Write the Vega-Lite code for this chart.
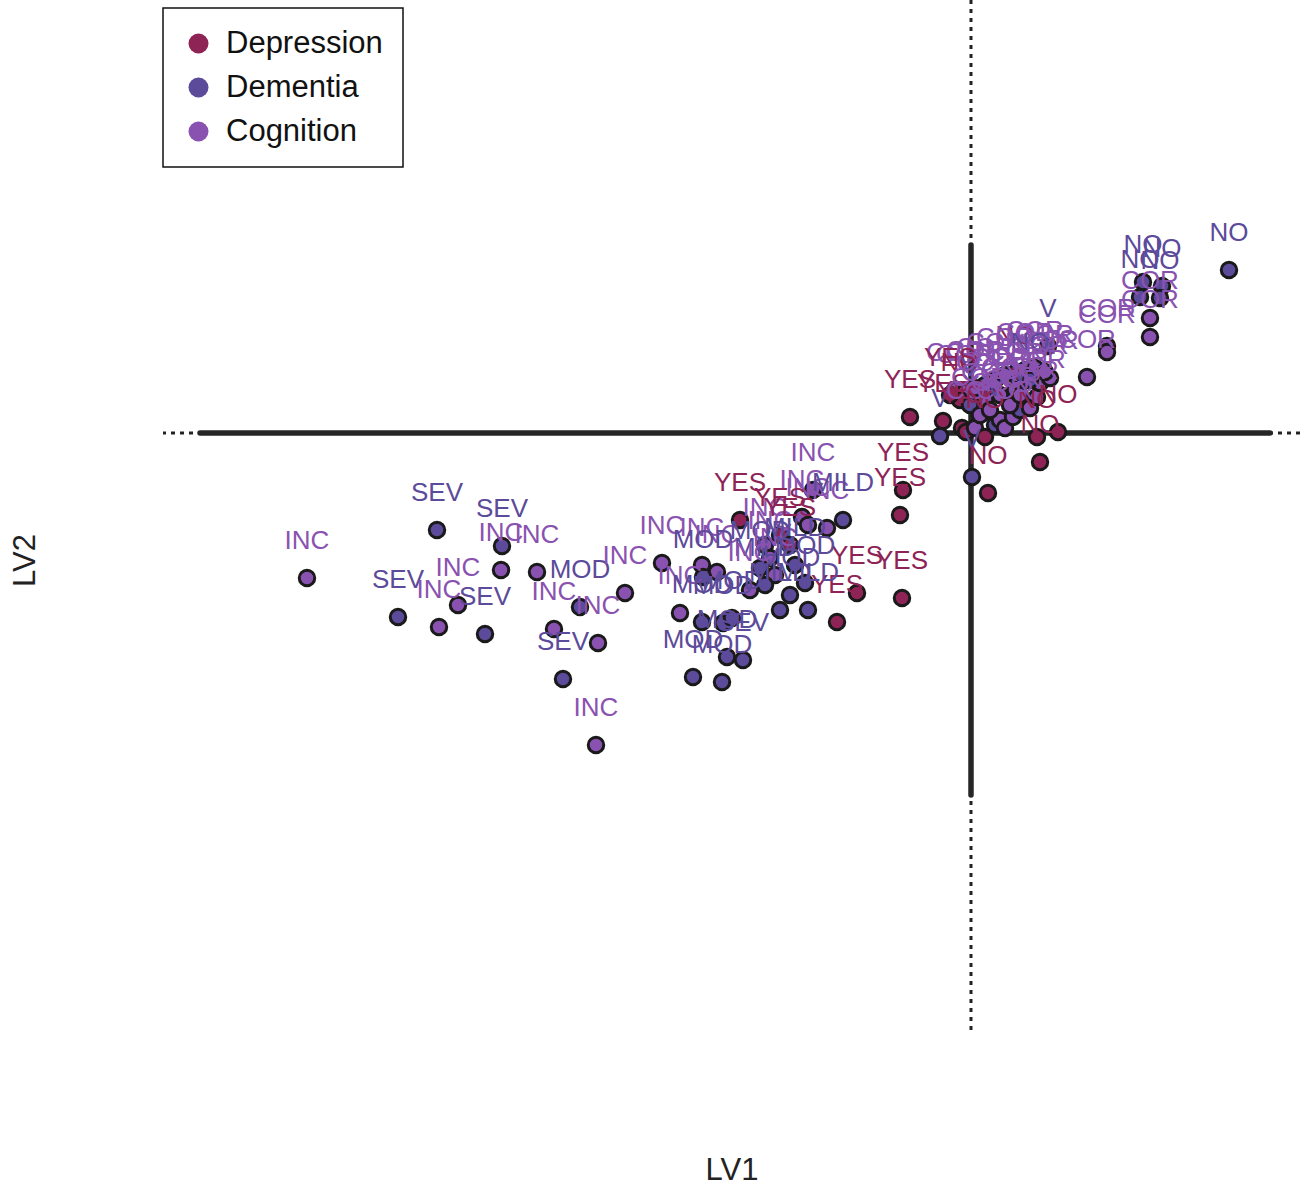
{
  "$schema": "https://vega.github.io/schema/vega-lite/v6.json",
  "width": 1137,
  "height": 1035,
  "autosize": {"type": "none"},
  "padding": {"left": 163, "top": 0, "right": 3, "bottom": 156},
  "background": "white",
  "config": {
    "view": {"stroke": null},
    "font": "Liberation Sans",
    "legend": {
      "orient": "none",
      "legendX": 0,
      "legendY": 8,
      "strokeColor": "#111111",
      "strokeWidth": 1.5,
      "fillColor": "white",
      "padding": 20,
      "labelFontSize": 31,
      "labelFont": "Liberation Sans",
      "labelColor": "#111111",
      "labelLimit": 400,
      "labelOffset": 12,
      "symbolSize": 400,
      "symbolType": "circle",
      "symbolStrokeWidth": 0,
      "symbolOpacity": 1,
      "rowPadding": 12,
      "title": null
    }
  },
  "datasets": {
    "pts": [
      {"lv1": -6.64, "lv2": -1.45, "group": "Cognition", "label": "INC"},
      {"lv1": -5.34, "lv2": -0.97, "group": "Dementia", "label": "SEV"},
      {"lv1": -4.69, "lv2": -1.13, "group": "Dementia", "label": "SEV"},
      {"lv1": -4.70, "lv2": -1.37, "group": "Cognition", "label": "INC"},
      {"lv1": -4.34, "lv2": -1.39, "group": "Cognition", "label": "INC"},
      {"lv1": -5.13, "lv2": -1.72, "group": "Cognition", "label": "INC"},
      {"lv1": -5.73, "lv2": -1.84, "group": "Dementia", "label": "SEV"},
      {"lv1": -5.32, "lv2": -1.94, "group": "Cognition", "label": "INC"},
      {"lv1": -4.86, "lv2": -2.01, "group": "Dementia", "label": "SEV"},
      {"lv1": -3.91, "lv2": -1.74, "group": "Dementia", "label": "MOD"},
      {"lv1": -4.17, "lv2": -1.96, "group": "Cognition", "label": "INC"},
      {"lv1": -3.73, "lv2": -2.10, "group": "Cognition", "label": "INC"},
      {"lv1": -4.08, "lv2": -2.46, "group": "Dementia", "label": "SEV"},
      {"lv1": -3.75, "lv2": -3.12, "group": "Cognition", "label": "INC"},
      {"lv1": -3.46, "lv2": -1.60, "group": "Cognition", "label": "INC"},
      {"lv1": -3.09, "lv2": -1.30, "group": "Cognition", "label": "INC"},
      {"lv1": -2.69, "lv2": -1.32, "group": "Cognition", "label": "INC"},
      {"lv1": -2.54, "lv2": -1.39, "group": "Cognition", "label": "INC"},
      {"lv1": -2.68, "lv2": -1.44, "group": "Dementia", "label": "MOD"},
      {"lv1": -2.91, "lv2": -1.80, "group": "Cognition", "label": "INC"},
      {"lv1": -2.69, "lv2": -1.89, "group": "Dementia", "label": "MOD"},
      {"lv1": -2.48, "lv2": -1.90, "group": "Dementia", "label": "MOD"},
      {"lv1": -2.39, "lv2": -1.85, "group": "Dementia", "label": "MOD"},
      {"lv1": -2.44, "lv2": -2.24, "group": "Dementia", "label": "MOD"},
      {"lv1": -2.28, "lv2": -2.27, "group": "Dementia", "label": "SEV"},
      {"lv1": -2.78, "lv2": -2.44, "group": "Dementia", "label": "MOD"},
      {"lv1": -2.49, "lv2": -2.49, "group": "Dementia", "label": "MOD"},
      {"lv1": -2.31, "lv2": -0.87, "group": "Depression", "label": "YES"},
      {"lv1": -1.69, "lv2": -0.84, "group": "Cognition", "label": "INC"},
      {"lv1": -1.63, "lv2": -0.92, "group": "Cognition", "label": "INC"},
      {"lv1": -1.44, "lv2": -0.95, "group": "Cognition", "label": "INC"},
      {"lv1": -1.28, "lv2": -0.87, "group": "Dementia", "label": "MILD"},
      {"lv1": -1.58, "lv2": -0.57, "group": "Cognition", "label": "INC"},
      {"lv1": -0.68, "lv2": -0.57, "group": "Depression", "label": "YES"},
      {"lv1": -0.71, "lv2": -0.82, "group": "Depression", "label": "YES"},
      {"lv1": -1.14, "lv2": -1.60, "group": "Depression", "label": "YES"},
      {"lv1": -0.69, "lv2": -1.65, "group": "Depression", "label": "YES"},
      {"lv1": -1.34, "lv2": -1.89, "group": "Depression", "label": "YES"},
      {"lv1": -1.81, "lv2": -1.62, "group": "Dementia", "label": "MOD"},
      {"lv1": -1.91, "lv2": -1.77, "group": "Dementia", "label": "MILD"},
      {"lv1": -1.63, "lv2": -1.77, "group": "Dementia", "label": "MILD"},
      {"lv1": -1.66, "lv2": -1.50, "group": "Dementia", "label": "MOD"},
      {"lv1": -2.06, "lv2": -1.12, "group": "Cognition", "label": "INC"},
      {"lv1": -2.01, "lv2": -1.25, "group": "Cognition", "label": "INC"},
      {"lv1": -2.11, "lv2": -1.35, "group": "Dementia", "label": "MOD"},
      {"lv1": -1.96, "lv2": -1.42, "group": "Cognition", "label": "INC"},
      {"lv1": -2.06, "lv2": -1.52, "group": "Dementia", "label": "MILD"},
      {"lv1": -1.91, "lv2": -1.02, "group": "Depression", "label": "YES"},
      {"lv1": -1.81, "lv2": -1.12, "group": "Depression", "label": "YES"},
      {"lv1": -1.76, "lv2": -1.32, "group": "Dementia", "label": "MILD"},
      {"lv1": -2.21, "lv2": -1.57, "group": "Cognition", "label": "INC"},
      {"lv1": -0.61, "lv2": 0.16, "group": "Depression", "label": "YES"},
      {"lv1": -0.28, "lv2": 0.12, "group": "Depression", "label": "YES"},
      {"lv1": -0.31, "lv2": -0.03, "group": "Dementia", "label": "V"},
      {"lv1": -0.09, "lv2": 0.05, "group": "Depression", "label": "YES"},
      {"lv1": -0.05, "lv2": 0.01, "group": "Depression", "label": "NO"},
      {"lv1": 0.04, "lv2": 0.05, "group": "Cognition", "label": "COR"},
      {"lv1": 0.14, "lv2": -0.04, "group": "Depression", "label": "NO"},
      {"lv1": 0.24, "lv2": 0.08, "group": "Dementia", "label": "V"},
      {"lv1": 0.29, "lv2": 0.13, "group": "Cognition", "label": "COR"},
      {"lv1": 0.01, "lv2": -0.44, "group": "Dementia", "label": "V"},
      {"lv1": 0.17, "lv2": -0.60, "group": "Depression", "label": "NO"},
      {"lv1": 0.66, "lv2": -0.04, "group": "Depression", "label": "NO"},
      {"lv1": 0.69, "lv2": -0.29, "group": "Depression", "label": "NO"},
      {"lv1": 0.87, "lv2": 0.01, "group": "Depression", "label": "NO"},
      {"lv1": 0.34, "lv2": 0.05, "group": "Cognition", "label": "COR"},
      {"lv1": 0.42, "lv2": 0.16, "group": "Cognition", "label": "COR"},
      {"lv1": 0.49, "lv2": 0.23, "group": "Dementia", "label": "V"},
      {"lv1": 0.59, "lv2": 0.25, "group": "Cognition", "label": "COR"},
      {"lv1": 0.66, "lv2": 0.36, "group": "Cognition", "label": "COR"},
      {"lv1": 0.69, "lv2": 0.50, "group": "Cognition", "label": "COR"},
      {"lv1": 0.79, "lv2": 0.55, "group": "Cognition", "label": "COR"},
      {"lv1": 1.16, "lv2": 0.56, "group": "Cognition", "label": "COR"},
      {"lv1": 1.36, "lv2": 0.87, "group": "Cognition", "label": "COR"},
      {"lv1": 1.36, "lv2": 0.81, "group": "Cognition", "label": "COR"},
      {"lv1": 0.77, "lv2": 0.87, "group": "Dementia", "label": "V"},
      {"lv1": 0.44, "lv2": 0.60, "group": "Depression", "label": "NO"},
      {"lv1": -0.16, "lv2": 0.43, "group": "Cognition", "label": "COR"},
      {"lv1": -0.06, "lv2": 0.41, "group": "Cognition", "label": "COR"},
      {"lv1": 0.04, "lv2": 0.45, "group": "Cognition", "label": "COR"},
      {"lv1": 0.14, "lv2": 0.48, "group": "Cognition", "label": "COR"},
      {"lv1": 0.24, "lv2": 0.53, "group": "Cognition", "label": "COR"},
      {"lv1": 0.34, "lv2": 0.58, "group": "Cognition", "label": "COR"},
      {"lv1": 0.54, "lv2": 0.63, "group": "Cognition", "label": "COR"},
      {"lv1": 0.64, "lv2": 0.65, "group": "Cognition", "label": "COR"},
      {"lv1": 0.74, "lv2": 0.61, "group": "Cognition", "label": "COR"},
      {"lv1": 0.59, "lv2": 0.53, "group": "Dementia", "label": "NO"},
      {"lv1": -0.11, "lv2": 0.33, "group": "Depression", "label": "NO"},
      {"lv1": -0.01, "lv2": 0.28, "group": "Dementia", "label": "V"},
      {"lv1": 0.14, "lv2": 0.33, "group": "Cognition", "label": "COR"},
      {"lv1": 0.29, "lv2": 0.38, "group": "Cognition", "label": "COR"},
      {"lv1": 0.44, "lv2": 0.43, "group": "Cognition", "label": "COR"},
      {"lv1": -0.21, "lv2": 0.38, "group": "Depression", "label": "YES"},
      {"lv1": 0.09, "lv2": 0.18, "group": "Cognition", "label": "COR"},
      {"lv1": 0.19, "lv2": 0.23, "group": "Cognition", "label": "COR"},
      {"lv1": 0.39, "lv2": 0.28, "group": "Cognition", "label": "COR"},
      {"lv1": 0.49, "lv2": 0.38, "group": "Cognition", "label": "COR"},
      {"lv1": 1.72, "lv2": 1.51, "group": "Dementia", "label": "NO"},
      {"lv1": 1.91, "lv2": 1.47, "group": "Dementia", "label": "NO"},
      {"lv1": 1.69, "lv2": 1.36, "group": "Dementia", "label": "NO"},
      {"lv1": 1.89, "lv2": 1.35, "group": "Dementia", "label": "NO"},
      {"lv1": 1.79, "lv2": 1.15, "group": "Cognition", "label": "COR"},
      {"lv1": 1.79, "lv2": 0.96, "group": "Cognition", "label": "COR"},
      {"lv1": 2.58, "lv2": 1.63, "group": "Dementia", "label": "NO"}
    ]
  },
  "encoding": {
    "x": {"field": "lv1", "type": "quantitative",
      "scale": {"domain": [-8.08, 3.29], "nice": false, "zero": false},
      "axis": {"domain": false, "ticks": false, "labels": false, "grid": false,
        "title": "LV1", "titleFontSize": 31, "titleFontWeight": "normal", "titleColor": "#222222",
        "titleFont": "Liberation Sans", "titleBaseline": "middle", "titleY": 135}},
    "y": {"field": "lv2", "type": "quantitative",
      "scale": {"domain": [-6.02, 4.33], "nice": false, "zero": false},
      "axis": {"domain": false, "ticks": false, "labels": false, "grid": false,
        "title": "LV2", "titleFontSize": 31, "titleFontWeight": "normal", "titleColor": "#222222",
        "titleFont": "Liberation Sans", "titleAngle": -90, "titleBaseline": "middle", "titleAlign": "center",
        "titleX": -138, "titleY": 560}}
  },
  "layer": [
    {
      "data": {"values": [{"v": 0}]},
      "mark": {"type": "rule", "color": "#222222", "strokeWidth": 3, "strokeDash": [4, 5]},
      "encoding": {"x": {"field": "v", "type": "quantitative"}, "y": null}
    },
    {
      "data": {"values": [{"v": 0}]},
      "mark": {"type": "rule", "color": "#222222", "strokeWidth": 3, "strokeDash": [4, 5]},
      "encoding": {"y": {"field": "v", "type": "quantitative"}, "x": null}
    },
    {
      "data": {"values": [{"a": -7.71, "b": 2.99, "c": 0}]},
      "mark": {"type": "rule", "color": "#262626", "strokeWidth": 5.5, "strokeCap": "round"},
      "encoding": {"x": {"field": "a", "type": "quantitative"}, "x2": {"field": "b"}, "y": {"field": "c", "type": "quantitative"}}
    },
    {
      "data": {"values": [{"a": 1.88, "b": -3.62, "c": 0}]},
      "mark": {"type": "rule", "color": "#262626", "strokeWidth": 5.5, "strokeCap": "round"},
      "encoding": {"y": {"field": "a", "type": "quantitative"}, "y2": {"field": "b"}, "x": {"field": "c", "type": "quantitative"}}
    },
    {
      "data": {"name": "pts"},
      "mark": {"type": "point", "filled": true, "shape": "circle", "size": 240, "stroke": "#1a1a1a", "strokeWidth": 3, "opacity": 1},
      "encoding": {
        "color": {"field": "group", "type": "nominal",
          "scale": {"domain": ["Depression", "Dementia", "Cognition"], "range": ["#8E2456", "#5C4A9A", "#8A52B0"]},
          "legend": {"symbolStrokeWidth": 0}}
      }
    },
    {
      "data": {"name": "pts"},
      "mark": {"type": "text", "fontSize": 26, "font": "Liberation Sans", "baseline": "alphabetic", "align": "center", "dy": -29},
      "encoding": {
        "text": {"field": "label"},
        "color": {"field": "group", "type": "nominal", "legend": null}
      }
    }
  ]
}
